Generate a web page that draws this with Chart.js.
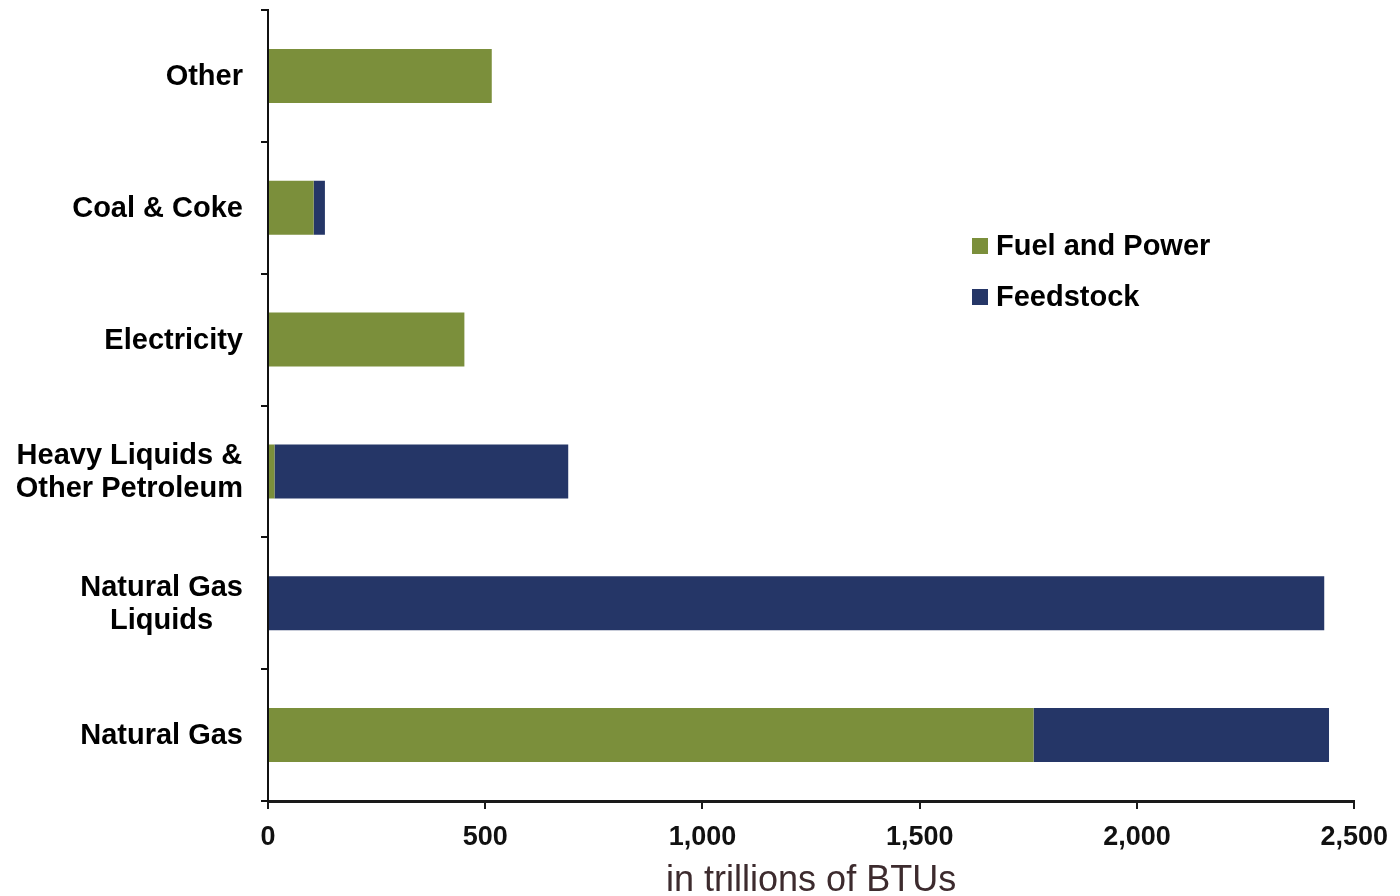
<!DOCTYPE html>
<html>
<head>
<meta charset="utf-8">
<title>Energy use by source</title>
<script src="https://cdn.jsdelivr.net/npm/chart.js@4.4.1/dist/chart.umd.min.js"></script>
<style>
    html, body { margin: 0; padding: 0; background: #fff; }
    #wrap { width: 1400px; height: 896px; position: relative; }
</style>
</head>
<body>
<div id="wrap"><canvas id="energyChart"></canvas></div>
<script>
// chart data
var categories = [
    'Other',
    'Coal & Coke',
    'Electricity',
    ['Heavy Liquids &', 'Other Petroleum'],
    ['Natural Gas', 'Liquids'],
    'Natural Gas'
];
var fuelAndPower = [515, 105, 452, 15, 0, 1762];
var feedstock = [0, 26, 0, 676, 2431, 680];
var xTicks = [0, 500, 1000, 1500, 2000, 2500];

var seriesNames = ['Fuel and Power', 'Feedstock'];
var seriesColors = ['#7b8f3b', '#253667'];

(function() {
    'use strict';

    var LABEL_FONT = 'bold 29px "Liberation Sans", Arial, sans-serif';
    var Y_TICK_LEN = 7;
    var Y_LABEL_PAD = 18;

    // y labels: each block right-aligned against the axis, lines centred inside the block
    var yLabelsPlugin = {
        id: 'yLabels',
        afterDraw: function(chart) {
            var ctx = chart.ctx;
            var yScale = chart.scales.y;
            var xRight = yScale.right - Y_TICK_LEN - Y_LABEL_PAD;
            var lineH = 33;
            ctx.save();
            ctx.font = LABEL_FONT;
            ctx.fillStyle = '#000';
            ctx.textAlign = 'center';
            ctx.textBaseline = 'middle';
            categories.forEach(function(lbl, i) {
                var lines = Array.isArray(lbl) ? lbl : [lbl];
                var maxW = 0;
                lines.forEach(function(l) { maxW = Math.max(maxW, ctx.measureText(l).width); });
                var cx = xRight - maxW / 2;
                var cy = yScale.getPixelForValue(i) + 1;
                lines.forEach(function(l, k) {
                    ctx.fillText(l, cx, cy + (k - (lines.length - 1) / 2) * lineH);
                });
            });
            ctx.restore();
        }
    };

    // legend floating inside the plot, to the right
    var floatLegendPlugin = {
        id: 'floatLegend',
        afterDraw: function(chart) {
            var ctx = chart.ctx;
            var x = 972, y = 246, gap = 51, box = 16;
            ctx.save();
            ctx.font = 'bold 29px "Liberation Sans", Arial, sans-serif';
            ctx.textAlign = 'left';
            ctx.textBaseline = 'middle';
            chart.data.datasets.forEach(function(ds, i) {
                var cy = y + i * gap;
                ctx.fillStyle = ds.backgroundColor;
                ctx.fillRect(x, cy - box / 2, box, box);
                ctx.fillStyle = '#000';
                ctx.fillText(ds.label, x + box + 8, cy + 1);
            });
            ctx.restore();
        }
    };

    function createChart() {
        var el = document.getElementById('energyChart');
        if (!el || typeof Chart === 'undefined') {
            console.error('Chart.js not loaded');
            return;
        }

        new Chart(el, {
            type: 'bar',
            data: {
                labels: categories,
                datasets: [{
                    label: seriesNames[0],
                    data: fuelAndPower,
                    backgroundColor: seriesColors[0],
                    barPercentage: 0.41,
                    categoryPercentage: 1
                }, {
                    label: seriesNames[1],
                    data: feedstock,
                    backgroundColor: seriesColors[1],
                    barPercentage: 0.41,
                    categoryPercentage: 1
                }]
            },
            options: {
                indexAxis: 'y',
                responsive: true,
                maintainAspectRatio: false,
                animation: false,
                layout: {
                    padding: { top: 10, right: 43, bottom: 0, left: 0 }
                },
                plugins: {
                    legend: { display: false },
                    tooltip: { enabled: false }
                },
                scales: {
                    x: {
                        stacked: true,
                        min: 0,
                        max: 2500,
                        afterBuildTicks: function(scale) {
                            scale.ticks = xTicks.map(function(v) { return { value: v }; });
                        },
                        afterFit: function(scale) { scale.height = 95; },
                        border: { display: true, color: '#1a1a1a', width: 3 },
                        grid: {
                            drawOnChartArea: false,
                            drawTicks: true,
                            tickLength: 8,
                            color: '#1a1a1a',
                            lineWidth: 2
                        },
                        ticks: {
                            padding: 12,
                            color: '#111',
                            font: { family: '"Liberation Sans", Arial, sans-serif', size: 27, weight: 'bold' },
                            callback: function(v) { return Number(v).toLocaleString('en-US'); },
                            maxRotation: 0
                        },
                        title: {
                            display: true,
                            text: 'in trillions of BTUs',
                            color: '#3d2b2e',
                            font: { family: '"Liberation Sans", Arial, sans-serif', size: 36, lineHeight: 1 },
                            padding: { top: 0, bottom: -3 }
                        }
                    },
                    y: {
                        stacked: true,
                        afterFit: function(scale) { scale.width = 268; },
                        border: { display: true, color: '#111', width: 2 },
                        grid: {
                            offset: true,
                            drawOnChartArea: false,
                            drawTicks: true,
                            tickLength: Y_TICK_LEN,
                            color: '#111',
                            lineWidth: 2
                        },
                        ticks: { display: false }
                    }
                }
            },
            plugins: [yLabelsPlugin, floatLegendPlugin]
        });
    }

    if (document.readyState === 'loading') {
        document.addEventListener('DOMContentLoaded', createChart);
    } else {
        createChart();
    }
})();
</script>
</body>
</html>
